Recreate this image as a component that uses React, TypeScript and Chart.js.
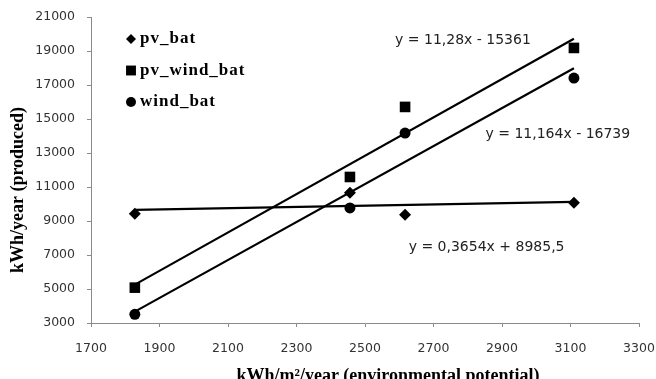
import React, { useEffect, useRef } from "react";
import { Chart, registerables } from "chart.js";

Chart.register(...registerables);

const seriesNames = ["pv_bat", "pv_wind_bat", "wind_bat"];
const pointStyles = ["rectRot", "rect", "circle"];
const pointRadii = [6, 7.5, 5.5];

const pvBatX = [1828, 2456, 2617, 3110];
const pvBatY = [9420, 10660, 9370, 10070];
const pvWindBatX = [1828, 2456, 2617, 3110];
const pvWindBatY = [5080, 11590, 15710, 19180];
const windBatX = [1828, 2456, 2617, 3110];
const windBatY = [3510, 9770, 14170, 17410];

// trend line coefficients (slope, intercept) and their labels
const trendSlopes = [0.3654, 11.28, 11.164];
const trendIntercepts = [8985.5, -15361, -16739];
const trendLabels = ["y = 0,3654x + 8985,5", "y = 11,28x - 15361", "y = 11,164x - 16739"];

const xTicks = [1700, 1900, 2100, 2300, 2500, 2700, 2900, 3100, 3300];
const yTicks = [3000, 5000, 7000, 9000, 11000, 13000, 15000, 17000, 19000, 21000];

const xTitle = "kWh/m²/year (environmental potential)";
const yTitle = "kWh/year (produced)";

const xsAll = [pvBatX, pvWindBatX, windBatX];
const ysAll = [pvBatY, pvWindBatY, windBatY];

// label anchor positions (data coords) for the trend equations
const labelPosX = [2855, 2786, 3063];
const labelPosY = [7470, 19650, 14118];

const TICK_FONT = "DejaVu Sans";

function drawMarker(ctx: CanvasRenderingContext2D, style: string, x: number, y: number, r: number) {
  ctx.beginPath();
  if (style === "rectRot") {
    ctx.moveTo(x, y - r);
    ctx.lineTo(x + r, y);
    ctx.lineTo(x, y + r);
    ctx.lineTo(x - r, y);
    ctx.closePath();
  } else if (style === "rect") {
    const s = r * Math.SQRT1_2;
    ctx.rect(x - s, y - s, 2 * s, 2 * s);
  } else {
    ctx.arc(x, y, r, 0, Math.PI * 2);
  }
  ctx.fill();
}

const overlayPlugin = {
  id: "overlay",
  afterDraw(chart: any) {
    const ctx: CanvasRenderingContext2D = chart.ctx;
    const xs = chart.scales.x;
    const ys = chart.scales.y;
    ctx.save();
    // legend
    ctx.fillStyle = "#000";
    ctx.textBaseline = "middle";
    ctx.textAlign = "left";
    ctx.font = "bold 17px 'Liberation Serif'";
    (ctx as any).letterSpacing = "1px";
    const lx = chart.chartArea.left + 40;
    const ly0 = chart.chartArea.top + 22;
    seriesNames.forEach((n, i) => {
      const yy = ly0 + i * 31.5;
      drawMarker(ctx, pointStyles[i], lx, yy, i === 0 ? 5 : i === 1 ? 7 : 5);
      ctx.fillText(n, lx + 9, yy);
    });
    (ctx as any).letterSpacing = "0px";
    // trend labels
    ctx.font = `14px ${TICK_FONT}`;
    ctx.fillStyle = "#222";
    ctx.textAlign = "center";
    trendLabels.forEach((t, i) => {
      ctx.fillText(t, xs.getPixelForValue(labelPosX[i]), ys.getPixelForValue(labelPosY[i]));
    });
    // axis titles
    ctx.fillStyle = "#000";
    ctx.font = "bold 18px 'Liberation Serif'";
    ctx.textBaseline = "alphabetic";
    ctx.fillText(xTitle, 388, 381);
    ctx.translate(23, 190);
    ctx.rotate(-Math.PI / 2);
    ctx.fillText(yTitle, 0, 0);
    ctx.restore();
  },
};

export default function App() {
  const ref = useRef<HTMLCanvasElement | null>(null);
  useEffect(() => {
    document.body.style.margin = "0";
    const canvas = ref.current!;
    const datasets: any[] = [];
    seriesNames.forEach((n, i) => {
      datasets.push({
        label: n,
        data: xsAll[i].map((x, j) => ({ x, y: ysAll[i][j] })),
        pointStyle: pointStyles[i],
        pointRadius: pointRadii[i],
        pointBackgroundColor: "#000",
        pointBorderColor: "#000",
        pointBorderWidth: 0,
        showLine: false,
        order: 1,
      });
    });
    seriesNames.forEach((n, i) => {
      const x0 = Math.min(...xsAll[i]);
      const x1 = Math.max(...xsAll[i]);
      datasets.push({
        label: n + " trend",
        data: [x0, x1].map((x) => ({ x, y: trendSlopes[i] * x + trendIntercepts[i] })),
        showLine: true,
        borderColor: "#000",
        borderWidth: 2.2,
        pointRadius: 0,
        order: 2,
      });
    });
    const chart = new Chart(canvas, {
      type: "scatter",
      data: { datasets },
      options: {
        responsive: false,
        animation: false,
        layout: { padding: { top: 17, right: 17, left: 0, bottom: 0 } },
        plugins: { legend: { display: false }, tooltip: { enabled: false } },
        scales: {
          x: {
            type: "linear",
            min: 1700,
            max: 3300,
            afterBuildTicks: (s: any) => {
              s.ticks = xTicks.map((v) => ({ value: v }));
            },
            afterFit: (s: any) => {
              s.height = 56;
              s.paddingLeft = 0;
              s.paddingRight = 0;
            },
            grid: { display: true, drawOnChartArea: false, drawTicks: true, tickLength: 4, color: "#8a8a8a" },
            border: { display: true, color: "#8a8a8a", width: 1 },
            ticks: {
              color: "#333",
              font: { family: TICK_FONT, size: 12.5 },
              padding: 14,
              maxRotation: 0,
              autoSkip: false,
              callback: (v: any) => String(v),
            },
          },
          y: {
            type: "linear",
            min: 3000,
            max: 21000,
            afterBuildTicks: (s: any) => {
              s.ticks = yTicks.map((v) => ({ value: v }));
            },
            afterFit: (s: any) => {
              s.width = 91;
              s.paddingTop = 0;
              s.paddingBottom = 0;
            },
            grid: { display: true, drawOnChartArea: false, drawTicks: true, tickLength: 4, color: "#8a8a8a" },
            border: { display: true, color: "#8a8a8a", width: 1 },
            ticks: {
              color: "#333",
              font: { family: TICK_FONT, size: 12.5 },
              padding: 12,
              autoSkip: false,
              callback: (v: any) => String(v),
            },
          },
        },
      },
      plugins: [overlayPlugin],
    } as any);
    return () => chart.destroy();
  }, []);
  return <canvas ref={ref} width={656} height={379} style={{ display: "block" }} />;
}
